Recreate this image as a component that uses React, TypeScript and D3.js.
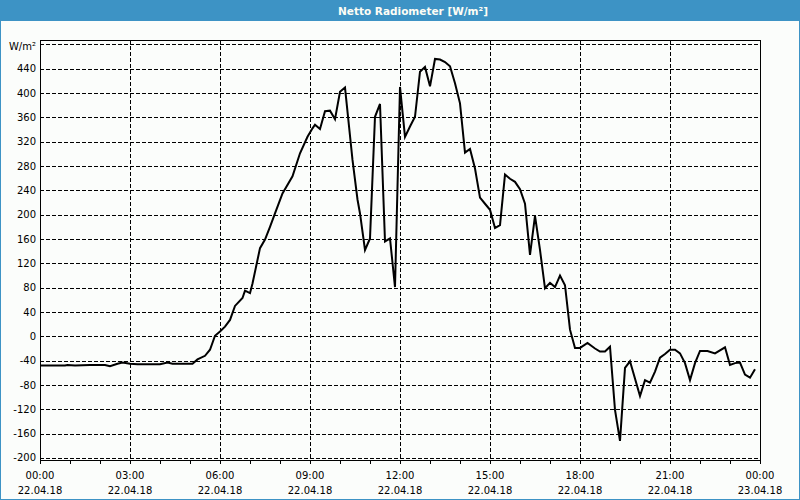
import React from "react";
import * as d3 from "d3";

const title = "Netto Radiometer [W/m²]";
const unitLabel = "W/m²";

// minutes since 22.04.18 00:00
const minutes = [
  0, 50, 55, 70, 100, 130, 140, 155, 165, 180, 195, 240, 255, 265, 305, 315, 330, 340, 350, 360,
  370, 380, 390, 405, 410, 420, 425, 440, 450, 460, 470, 485, 505, 520, 535, 545, 550, 560, 570, 580,
  590, 600, 610, 625, 635, 640, 650, 660, 670, 680, 690, 700, 710, 720, 730, 740, 750, 760, 770, 780,
  790, 800, 810, 820, 830, 840, 850, 860, 870, 880, 890, 900, 910, 920, 930, 940, 950, 960, 970, 980,
  990, 1000, 1010, 1020, 1030, 1040, 1050, 1060, 1070, 1080, 1095, 1110, 1120, 1130, 1140, 1150, 1160, 1170, 1180, 1200,
  1210, 1220, 1230, 1240, 1250, 1260, 1270, 1280, 1290, 1300, 1310, 1320, 1335, 1350, 1370, 1380, 1390, 1400, 1410, 1420,
  1430,
];
const values = [
  -48, -48, -47, -48, -47, -47, -49, -45, -43, -45, -46, -46, -43, -45, -45, -38, -32, -22, 1, 8,
  16, 27, 50, 63, 75, 71, 87, 145, 159, 180, 202, 235, 263, 301, 328, 342, 348, 341, 370, 371,
  357, 402, 409, 290, 225, 202, 142, 161, 361, 382, 156, 161, 81, 410, 328, 345, 361, 435, 443, 411,
  456, 455, 451, 444, 416, 383, 302, 308, 276, 228, 218, 208, 178, 183, 266, 259, 254, 242, 218, 134,
  198, 142, 79, 88, 81, 100, 84, 11, -19, -19, -11, -20, -25, -25, -17, -121, -172, -52, -41, -98,
  -72, -76, -58, -35, -29, -22, -22, -28, -44, -72, -44, -24, -24, -28, -18, -47, -44, -43, -63, -68,
  -54,
];

const yTicks = [-200, -160, -120, -80, -40, 0, 40, 80, 120, 160, 200, 240, 280, 320, 360, 400, 440];
const yGrid = [-200, -160, -120, -80, -40, 0, 40, 80, 120, 160, 200, 240, 280, 320, 360, 400, 440, 480];
const xLabelMinutes = [0, 180, 360, 540, 720, 900, 1080, 1260, 1440];
const timeLabels = ["00:00", "03:00", "06:00", "09:00", "12:00", "15:00", "18:00", "21:00", "00:00"];
const dateLabels = ["22.04.18", "22.04.18", "22.04.18", "22.04.18", "22.04.18", "22.04.18", "22.04.18", "22.04.18", "23.04.18"];

export default function App() {
  const W = 800, H = 500;
  const L = 40, R = 760, T = 40, B = 460;
  const x = d3.scaleLinear().domain([0, 1440]).range([L, R]);
  const y = d3.scaleLinear().domain([-203.3, 487.2]).range([B, T]);
  const pts: [number, number][] = minutes.map((m, i) => [m, values[i]]);
  const line = d3.line<[number, number]>().x((d) => x(d[0])).y((d) => y(d[1]));
  const hourTicks = d3.range(0, 1441, 60);
  const font = "'DejaVu Sans', Verdana, sans-serif";
  const blue = "#3d93c5";
  const px = (v: number) => Math.round(v) + 0.5;

  return (
    <svg width={W} height={H} style={{ position: "absolute", left: 0, top: 0, display: "block" }} fontFamily={font}>
      <rect x={0} y={0} width={W} height={H} fill="#fbfdfb" />
      <rect x={0.5} y={0.5} width={W - 1} height={H - 1} fill="none" stroke={blue} />
      <rect x={0} y={0} width={W} height={21} fill={blue} />
      <text x={413} y={14.5} textAnchor="middle" fill="#fdfdf5" fontSize={10.5} fontWeight="bold">{title}</text>

      {/* grid */}
      <g stroke="#000" strokeWidth={1} strokeDasharray="4,2" shapeRendering="crispEdges">
        {yGrid.map((v) => (
          <line key={"h" + v} x1={L} x2={R} y1={px(y(v))} y2={px(y(v))} />
        ))}
        {xLabelMinutes.slice(1, -1).map((m) => (
          <line key={"v" + m} x1={px(x(m))} x2={px(x(m))} y1={T} y2={B} />
        ))}
      </g>

      {/* frame */}
      <rect x={L + 0.5} y={T + 0.5} width={R - L} height={B - T} fill="none" stroke="#000" shapeRendering="crispEdges" />
      <g stroke="#000" shapeRendering="crispEdges">
        {hourTicks.map((m) => (
          <line key={"t" + m} x1={px(x(m))} x2={px(x(m))} y1={B} y2={B + 4} />
        ))}
      </g>

      {/* y labels */}
      <g fontSize={10} fill="#000" textAnchor="end">
        {yTicks.map((v) => (
          <text key={"yl" + v} x={36} y={y(v)} dy="0.35em">{v}</text>
        ))}
        <text x={36} y={46} dy="0.35em">{unitLabel}</text>
      </g>

      {/* x labels */}
      <g fontSize={10} fill="#000" textAnchor="middle">
        {xLabelMinutes.map((m, i) => (
          <g key={"xl" + m}>
            <text x={x(m)} y={479}>{timeLabels[i]}</text>
            <text x={x(m)} y={494}>{dateLabels[i]}</text>
          </g>
        ))}
      </g>

      <path d={line(pts) || ""} fill="none" stroke="#000" strokeWidth={2} strokeLinejoin="miter" />
    </svg>
  );
}
